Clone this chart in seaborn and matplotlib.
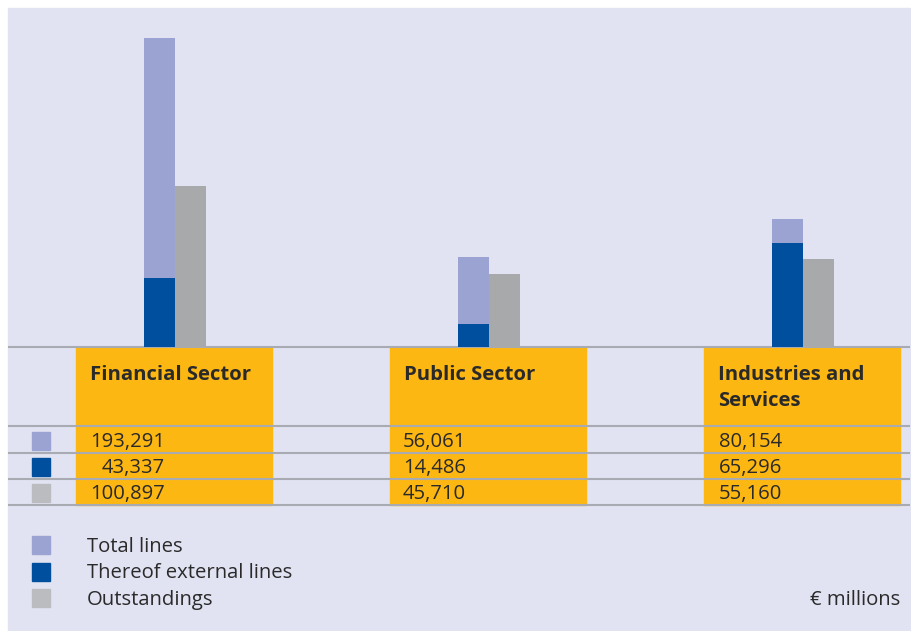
import matplotlib
matplotlib.use("Agg")
import matplotlib.pyplot as plt
import seaborn as sns
import pandas as pd
from matplotlib.patches import Rectangle

# ---- data (EUR millions) ----
sectors = ["Financial Sector", "Public Sector", "Industries and Services"]
header_labels = [["Financial Sector"], ["Public Sector"], ["Industries and", "Services"]]
total_lines = [193291, 56061, 80154]
external_lines = [43337, 14486, 65296]
outstandings = [100897, 45710, 55160]
series_names = ["Total lines", "Thereof external lines", "Outstandings"]
unit_label = "€ millions"

# ---- colours ----
PANEL = "#e1e3f2"
ORANGE = "#fcb713"
C_TOTAL = "#9ba3d3"
C_EXT = "#004f9f"
C_OUT = "#a8a9ab"
C_OUT_KEY = "#bbbcbf"
RULE = "#a9abb3"
TEXT = "#2a2a2a"

sns.set_theme(style="white")
plt.rcParams["font.family"] = ["Open Sans", "DejaVu Sans"]

W, H = 911, 631
fig = plt.figure(figsize=(W / 100, H / 100), dpi=100)
fig.patch.set_facecolor("white")

# background / table layer in pixel coordinates
bg = fig.add_axes([0, 0, 1, 1])
bg.set_xlim(0, W)
bg.set_ylim(H, 0)
bg.axis("off")
bg.add_patch(Rectangle((8, 8), W - 9, H - 8, color=PANEL, zorder=0))

base_y = 347
col_x = [76, 390, 704]
col_w = 196
row_lines = [426, 453, 479, 505]
for x0 in col_x:
    bg.add_patch(Rectangle((x0, base_y), col_w, row_lines[-1] - base_y,
                           color=ORANGE, zorder=1))
for y in [base_y] + row_lines:
    bg.plot([8, W - 1], [y, y], color=RULE, lw=1.5, zorder=2,
            solid_capstyle="butt")

key_colors = [C_TOTAL, C_EXT, C_OUT_KEY]
font_kw = dict(fontsize=14.6, color=TEXT)

# column headers
for x0, lines in zip(col_x, header_labels):
    for k, lab in enumerate(lines):
        bg.text(x0 + 14, 375 + 26 * k, lab, fontweight="bold", va="center",
                zorder=3, **font_kw)

# value rows
rows = [total_lines, external_lines, outstandings]
num_right = [165, 466, 782]
for r, (vals, y0, y1) in enumerate(zip(rows, row_lines[:-1], row_lines[1:])):
    yc = (y0 + y1) / 2 + 1
    bg.add_patch(Rectangle((32, yc - 9), 18, 18, color=key_colors[r], zorder=3))
    for xr, v in zip(num_right, vals):
        bg.text(xr, yc + 1, f"{v:,}", ha="right", va="center", zorder=3, **font_kw)

# legend below table
for i, (name, c) in enumerate(zip(series_names, key_colors)):
    yc = 545 + i * 26.5
    bg.add_patch(Rectangle((32, yc - 9), 18, 18, color=c, zorder=3))
    bg.text(87, yc + 2, name, ha="left", va="center", zorder=3, **font_kw)
bg.text(900, 600, unit_label, ha="right", va="center", zorder=3, **font_kw)

# ---- bar layer ----
spacing = 314.0
first_center = 175.0
px_per_unit = 1.6 / 1000.0
bar_px = 31.0
ax = fig.add_axes([0, (H - base_y) / H, 1, (base_y - 8) / H])
ax.patch.set_alpha(0)

group_w = 2 * bar_px / spacing
df = pd.DataFrame({
    "sector": sectors * 2,
    "value": total_lines + outstandings,
    "series": ["Total lines"] * 3 + ["Outstandings"] * 3,
})
sns.barplot(data=df, x="sector", y="value", hue="series",
            hue_order=["Total lines", "Outstandings"],
            palette=[C_TOTAL, C_OUT], saturation=1, width=group_w,
            gap=0, errorbar=None, legend=False, ax=ax, order=sectors)

# external lines sit inside the total-lines bar, same dodge slot
df_ext = pd.DataFrame({
    "sector": sectors * 2,
    "value": external_lines + outstandings,
    "series": ["Thereof external lines"] * 3 + ["Outstandings"] * 3,
})
sns.barplot(data=df_ext, x="sector", y="value", hue="series",
            hue_order=["Thereof external lines", "Outstandings"],
            palette=[C_EXT, C_OUT], saturation=1, width=group_w,
            gap=0, errorbar=None, legend=False, ax=ax, order=sectors)
for p in ax.patches:
    p.set_linewidth(0)
ax.set_xlim(-first_center / spacing, (W - first_center) / spacing)
ax.set_ylim(0, (base_y - 8) / px_per_unit)
ax.axis("off")

fig.savefig("out.png", dpi=100, facecolor=fig.get_facecolor())
